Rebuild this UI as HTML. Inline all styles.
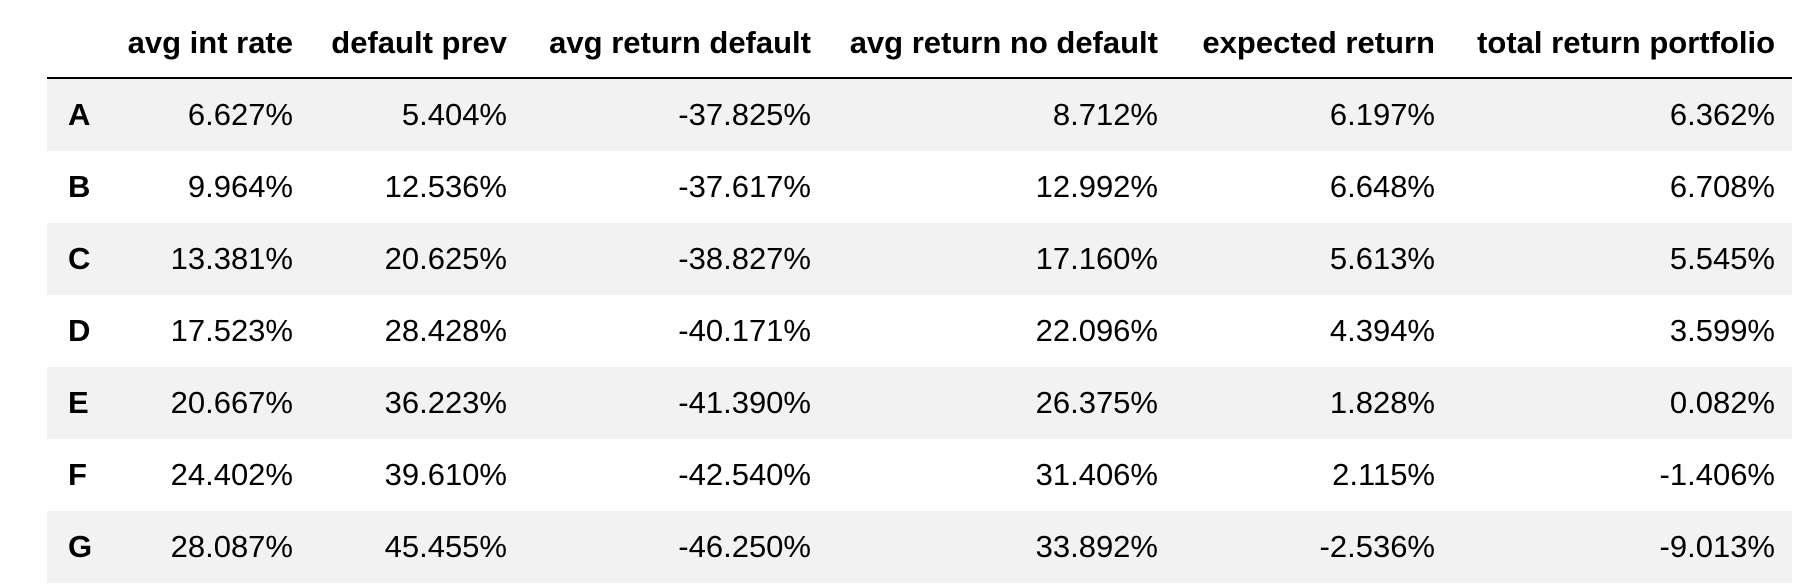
<!DOCTYPE html>
<html><head><meta charset="utf-8"><style>
body{margin:0;width:1802px;height:588px;background:#fff;overflow:hidden;font-family:"Liberation Sans",Arial,sans-serif;}
table{position:absolute;left:47px;top:0;border-collapse:collapse;table-layout:fixed;width:1745px;}
th,td{padding:0 17px;text-align:right;font-size:31px;color:#000;white-space:nowrap;}
thead th{height:68px;font-weight:bold;vertical-align:middle;padding-top:9px;border-bottom:2px solid #000;}
tbody td,tbody th{height:72px;}
tbody th{text-align:left;padding-left:21px;font-weight:bold;}
tbody tr:nth-child(odd){background:#f2f2f2;}
</style></head><body>
<table>
<colgroup><col style="width:58px"><col style="width:205px"><col style="width:214px"><col style="width:304px"><col style="width:347px"><col style="width:277px"><col style="width:340px"></colgroup>
<thead><tr>
<th></th>
<th>avg int rate</th>
<th>default prev</th>
<th>avg return default</th>
<th>avg return no default</th>
<th>expected return</th>
<th>total return portfolio</th>
</tr></thead>
<tbody>
<tr><th>A</th><td>6.627%</td><td>5.404%</td><td>-37.825%</td><td>8.712%</td><td>6.197%</td><td>6.362%</td></tr>
<tr><th>B</th><td>9.964%</td><td>12.536%</td><td>-37.617%</td><td>12.992%</td><td>6.648%</td><td>6.708%</td></tr>
<tr><th>C</th><td>13.381%</td><td>20.625%</td><td>-38.827%</td><td>17.160%</td><td>5.613%</td><td>5.545%</td></tr>
<tr><th>D</th><td>17.523%</td><td>28.428%</td><td>-40.171%</td><td>22.096%</td><td>4.394%</td><td>3.599%</td></tr>
<tr><th>E</th><td>20.667%</td><td>36.223%</td><td>-41.390%</td><td>26.375%</td><td>1.828%</td><td>0.082%</td></tr>
<tr><th>F</th><td>24.402%</td><td>39.610%</td><td>-42.540%</td><td>31.406%</td><td>2.115%</td><td>-1.406%</td></tr>
<tr><th>G</th><td>28.087%</td><td>45.455%</td><td>-46.250%</td><td>33.892%</td><td>-2.536%</td><td>-9.013%</td></tr>
</tbody></table>
</body></html>
